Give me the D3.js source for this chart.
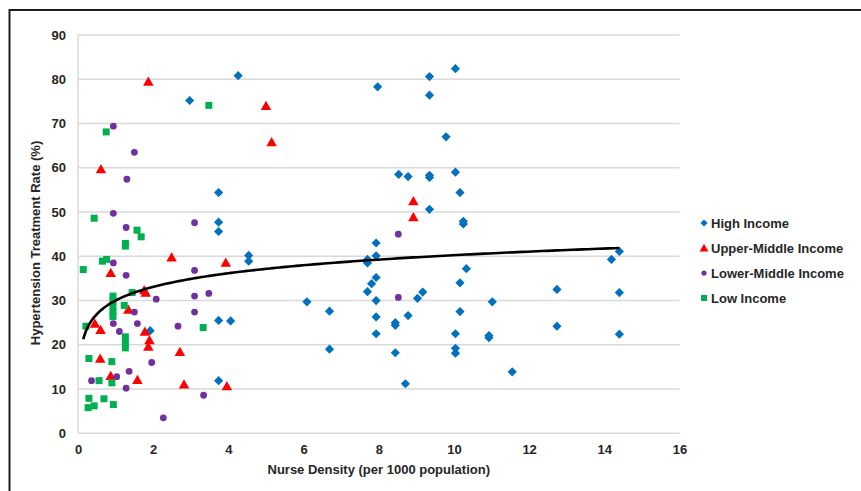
<!DOCTYPE html>
<html>
<head>
<meta charset="utf-8">
<script src="https://cdn.jsdelivr.net/npm/d3@7"></script>
<style>
  html, body { margin: 0; padding: 0; background: #fff; }
  svg { display: block; font-family: "Liberation Sans", Arial, sans-serif; }
</style>
</head>
<body>
<svg id="chart" width="861" height="491"></svg>
<script>
// ---- data ----
const xTicks = [0, 2, 4, 6, 8, 10, 12, 14, 16];
const yTicks = [0, 10, 20, 30, 40, 50, 60, 70, 80, 90];
const seriesNames = ["High Income", "Upper-Middle Income", "Lower-Middle Income", "Low Income"];

const highIncome = [
  [2.97,75.2],[4.26,80.8],[3.74,54.4],[3.74,47.7],[3.74,45.6],[4.54,40.2],[4.54,38.9],[1.92,23.2],
  [3.74,25.5],[4.06,25.4],[3.74,11.9],[6.09,29.7],[6.69,27.6],[6.69,19.0],[7.97,78.3],[7.70,39.3],
  [7.70,38.5],[7.93,40.1],[7.93,43.0],[7.93,35.2],[7.81,33.8],[7.70,32.0],[7.93,30.0],[7.93,26.3],
  [7.93,22.5],[8.44,25.0],[8.44,24.4],[8.44,18.2],[8.53,58.5],[8.78,58.0],[8.78,26.6],[8.71,11.2],
  [9.03,30.5],[9.17,31.9],[9.35,80.6],[9.35,76.4],[9.35,58.3],[9.35,57.8],[9.35,50.6],[9.79,67.0],
  [10.04,82.4],[10.04,59.0],[10.16,54.4],[10.25,47.9],[10.25,47.3],[10.33,37.2],[10.16,34.0],
  [10.16,27.5],[10.04,22.5],[10.04,19.2],[10.04,18.1],[11.02,29.7],[10.93,22.1],[10.93,21.6],
  [11.55,13.9],[12.74,32.5],[12.74,24.2],[14.19,39.3],[14.40,41.1],[14.40,31.8],[14.40,22.4]
];
const upperMiddleIncome = [
  [1.87,79.5],[5.00,74.0],[5.15,65.8],[0.61,59.7],[8.92,52.5],[8.92,48.9],[2.49,39.8],[3.93,38.6],
  [0.87,36.3],[1.76,32.4],[1.80,31.8],[1.34,28.0],[0.45,24.8],[0.60,23.4],[1.78,23.0],[1.90,21.1],
  [1.87,19.6],[2.71,18.4],[0.59,16.9],[0.87,13.0],[1.58,12.1],[2.82,11.1],[3.96,10.7]
];
const lowerMiddleIncome = [
  [0.94,69.4],[1.50,63.5],[1.30,57.4],[0.94,49.7],[1.28,46.5],[3.10,47.6],[8.52,45.0],[0.94,38.5],
  [1.28,35.7],[3.10,36.8],[2.08,30.3],[3.10,31.0],[3.48,31.6],[1.50,27.4],[3.10,27.4],[1.58,24.8],
  [0.94,24.8],[1.10,23.0],[2.66,24.2],[8.52,30.7],[1.96,16.0],[0.36,11.9],[1.03,12.8],[1.36,14.0],
  [1.28,10.2],[3.34,8.6],[2.27,3.5]
];
const lowIncome = [
  [3.48,74.1],[0.75,68.1],[0.43,48.6],[1.57,45.9],[1.68,44.4],[1.26,42.9],[1.26,42.3],[0.14,37.0],
  [0.65,38.9],[0.76,39.3],[1.44,31.8],[0.93,31.0],[0.93,29.9],[0.93,28.7],[0.93,27.5],[0.93,26.4],
  [1.23,28.9],[0.21,24.2],[1.26,21.8],[1.26,20.7],[1.26,19.3],[3.33,23.9],[0.29,16.9],[0.90,16.2],
  [0.56,11.9],[0.90,11.4],[0.29,7.9],[0.27,5.8],[0.43,6.2],[0.69,7.8],[0.94,6.5]
];
// logarithmic trendline y = a + b*ln(x), spanning the data's x range
const trendA = 30.0, trendB = 4.45, trendXMin = 0.14, trendXMax = 14.40;

// ---- chart ----
const svg = d3.select("#chart");
const x = d3.scaleLinear().domain([0, 16]).range([78, 679.5]);
const y = d3.scaleLinear().domain([0, 90]).range([433.3, 35]);

// outer frame
svg.append("rect").attr("x", 9.5).attr("y", 10).attr("width", 900).attr("height", 600)
  .attr("fill", "none").attr("stroke", "#1e1e1e").attr("stroke-width", 2);

// gridlines
svg.append("g").selectAll("line").data(yTicks.filter(d => d > 0)).join("line")
  .attr("x1", x(0)).attr("x2", x(16)).attr("y1", d => y(d)).attr("y2", d => y(d))
  .attr("stroke", "#d9d9d9").attr("stroke-width", 1.5);
// axis lines
svg.append("line").attr("x1", x(0)).attr("x2", x(16)).attr("y1", y(0)).attr("y2", y(0))
  .attr("stroke", "#d9d9d9").attr("stroke-width", 1.5);
svg.append("line").attr("x1", x(0)).attr("x2", x(0)).attr("y1", y(0)).attr("y2", y(90))
  .attr("stroke", "#d9d9d9").attr("stroke-width", 1.5);

// axes (labels only)
const gx = svg.append("g").attr("transform", `translate(0,${y(0)})`)
  .call(d3.axisBottom(x).tickValues(xTicks).tickSize(0).tickPadding(11).tickFormat(d3.format("d")));
const gy = svg.append("g").attr("transform", `translate(${x(0)},0)`)
  .call(d3.axisLeft(y).tickValues(yTicks).tickSize(0).tickPadding(12).tickFormat(d3.format("d")));
[gx, gy].forEach(g => {
  g.select(".domain").remove();
  g.selectAll("text").attr("font-family", "Liberation Sans, Arial, sans-serif")
    .attr("font-size", 13).attr("font-weight", "bold").attr("fill", "#262626");
});

// axis titles
svg.append("text").attr("x", (x(0) + x(16)) / 2).attr("y", 474).attr("text-anchor", "middle")
  .attr("font-size", 13).attr("font-weight", "bold").attr("fill", "#262626")
  .text("Nurse Density (per 1000 population)");
svg.append("text").attr("transform", `translate(40,${243}) rotate(-90)`).attr("text-anchor", "middle")
  .attr("font-size", 13).attr("font-weight", "bold").attr("fill", "#262626")
  .text("Hypertension Treatment Rate (%)");

// marker shapes
function markerPath(kind, s) {
  if (kind === "diamond") return `M0,${-s}L${s},0L0,${s}L${-s},0Z`;
  if (kind === "triangle") return `M0,${-s}L${s * 1.05},${s * 0.85}L${-s * 1.05},${s * 0.85}Z`;
  if (kind === "square") return `M${-s},${-s}H${s}V${s}H${-s}Z`;
  return null;
}
const series = [
  { name: seriesNames[0], data: highIncome, color: "#0070C0", kind: "diamond", size: 4.6, lsize: 3.6 },
  { name: seriesNames[1], data: upperMiddleIncome, color: "#FF0000", kind: "triangle", size: 5.0, lsize: 4.2 },
  { name: seriesNames[2], data: lowerMiddleIncome, color: "#7030A0", kind: "circle", size: 3.4, lsize: 2.6 },
  { name: seriesNames[3], data: lowIncome, color: "#00B050", kind: "square", size: 3.5, lsize: 3.0 }
];

series.forEach(s => {
  const g = svg.append("g");
  if (s.kind === "circle") {
    g.selectAll("circle").data(s.data).join("circle")
      .attr("cx", d => x(d[0])).attr("cy", d => y(d[1])).attr("r", s.size).attr("fill", s.color);
  } else {
    g.selectAll("path").data(s.data).join("path")
      .attr("transform", d => `translate(${x(d[0])},${y(d[1])})`)
      .attr("d", markerPath(s.kind, s.size)).attr("fill", s.color);
  }
});

// trendline
const trendPts = d3.range(0, 201).map(i => {
  const xv = trendXMin + (trendXMax - trendXMin) * Math.pow(i / 200, 2);
  return [xv, trendA + trendB * Math.log(xv)];
});
svg.append("path").datum(trendPts)
  .attr("d", d3.line().x(d => x(d[0])).y(d => y(d[1])))
  .attr("fill", "none").attr("stroke", "#000").attr("stroke-width", 2.6);

// legend
const legY = [223, 248, 273, 298];
series.forEach((s, i) => {
  const lg = svg.append("g").attr("transform", `translate(704,${legY[i]})`);
  if (s.kind === "circle") lg.append("circle").attr("r", s.lsize).attr("fill", s.color);
  else lg.append("path").attr("d", markerPath(s.kind, s.lsize)).attr("fill", s.color);
  lg.append("text").attr("x", 7).attr("y", 0).attr("dy", "0.35em")
    .attr("font-size", 13).attr("font-weight", "bold").attr("fill", "#262626").text(s.name);
});
</script>
</body>
</html>
